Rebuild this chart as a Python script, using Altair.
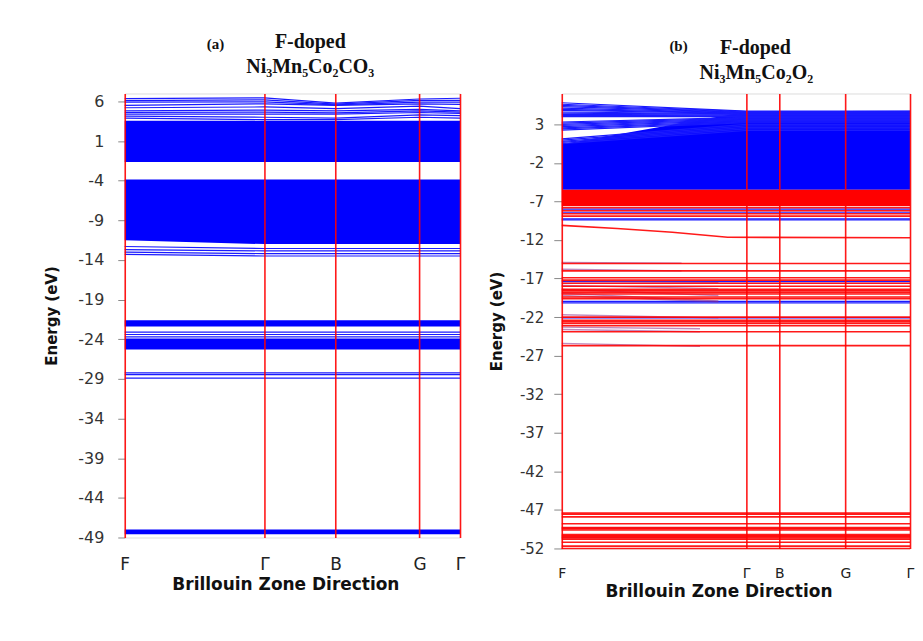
import altair as alt
import pandas as pd

# ---------------- data ----------------
# high-symmetry k positions and names
ka = [0.0, 1.0, 1.51, 2.11, 2.40]
kb = [0.0, 1.0, 1.18, 1.54, 1.89]
k_names = ["F", "Γ", "B", "G", "Γ"]

yticks_a = [6, 1, -4, -9, -14, -19, -24, -29, -34, -39, -44, -49]
yticks_b = [3, -2, -7, -12, -17, -22, -27, -32, -37, -42, -47, -52]

titles_a = ["(a)", "F-doped", "Ni₃Mn₅Co₂CO₃"]
titles_b = ["(b)", "F-doped", "Ni₃Mn₅Co₂O₂"]

# panel (a): dense band manifolds (upper / lower energy at each k point)
blocks_a_upper = [
    [3.55, 3.55, 3.55, 3.55, 3.55],
    [-3.85, -3.85, -3.85, -3.85, -3.85],
    [-21.6, -21.6, -21.6, -21.6, -21.6],
    [-23.9, -23.9, -23.9, -23.9, -23.9],
    [-48.0, -48.0, -48.0, -48.0, -48.0],
]
blocks_a_lower = [
    [-1.65, -1.65, -1.65, -1.65, -1.65],
    [-11.5, -12.0, -12.0, -12.0, -12.0],
    [-22.4, -22.4, -22.4, -22.4, -22.4],
    [-25.3, -25.3, -25.3, -25.3, -25.3],
    [-48.6, -48.6, -48.6, -48.6, -48.6],
]
# panel (a): individual bands
bands_a = [
    [6.34, 6.45, 5.79, 6.30, 6.40],
    [6.10, 6.20, 5.65, 6.13, 6.13],
    [5.90, 5.95, 5.55, 5.90, 5.90],
    [5.50, 5.70, 5.50, 5.70, 5.62],
    [5.20, 5.30, 5.10, 5.40, 5.10],
    [4.80, 4.90, 4.80, 5.00, 4.80],
    [4.60, 4.65, 4.55, 4.80, 4.65],
    [4.40, 4.40, 4.40, 4.60, 4.50],
    [4.15, 4.00, 3.90, 4.30, 4.20],
    [3.90, 3.70, 3.70, 4.00, 3.90],
    [-12.3, -12.55, -12.55, -12.55, -12.55],
    [-12.7, -12.85, -12.85, -12.85, -12.85],
    [-13.0, -13.2, -13.2, -13.2, -13.2],
    [-13.3, -13.5, -13.5, -13.5, -13.5],
    [-23.1, -23.1, -23.1, -23.1, -23.1],
    [-23.4, -23.4, -23.4, -23.4, -23.4],
    [-23.7, -23.7, -23.7, -23.7, -23.7],
    [-28.25, -28.25, -28.25, -28.25, -28.25],
    [-28.45, -28.45, -28.45, -28.45, -28.45],
    [-28.9, -28.9, -28.9, -28.9, -28.9],
]

# panel (b): blue (spin-up) manifold and bands
blocks_b_blue_upper = [[0.4, 4.63, 4.63, 4.63, 4.70]]
blocks_b_blue_lower = [[-5.5, -5.5, -5.5, -5.5, -5.5]]
bands_b_blue = [
    [5.80, 4.70, 4.70, 4.70, 4.72],
    [5.60, 4.66, 4.66, 4.66, 4.68],
    [5.45, 4.60, 4.60, 4.60, 4.62],
    [5.30, 4.55, 4.55, 4.55, 4.55],
    [5.10, 4.50, 4.50, 4.50, 4.50],
    [4.95, 4.45, 4.45, 4.45, 4.45],
    [4.80, 4.40, 4.40, 4.40, 4.40],
    [4.60, 4.35, 4.35, 4.35, 4.35],
    [4.45, 4.30, 4.30, 4.30, 4.30],
    [4.30, 4.20, 4.20, 4.20, 4.20],
    [4.15, 4.10, 4.10, 4.10, 4.10],
    [4.00, 4.00, 4.00, 4.00, 4.00],
    [3.30, 3.90, 3.90, 3.90, 3.90],
    [3.15, 3.80, 3.80, 3.80, 3.80],
    [3.00, 3.70, 3.70, 3.70, 3.70],
    [2.85, 3.60, 3.60, 3.60, 3.60],
    [2.70, 3.50, 3.50, 3.50, 3.50],
    [2.55, 3.40, 3.40, 3.40, 3.40],
    [2.40, 3.30, 3.30, 3.30, 3.30],
    [2.25, 3.20, 3.20, 3.20, 3.20],
    [1.10, 3.00, 3.00, 3.00, 3.00],
    [0.95, 2.80, 2.80, 2.80, 2.80],
    [0.80, 2.60, 2.60, 2.60, 2.60],
    [0.65, 2.40, 2.40, 2.40, 2.40],
    [0.50, 2.20, 2.20, 2.20, 2.20],
    [-8.0, -8.0, -8.0, -8.0, -8.0],
    [-8.4, -8.4, -8.4, -8.4, -8.4],
    [-9.25, -9.25, -9.25, -9.25, -9.25],
    [-9.4, -9.4, -9.4, -9.4, -9.4],
    [-17.4, -17.4, -17.4, -17.4, -17.4],
    [-19.95, -19.95, -19.95, -19.95, -19.95],
    [-20.15, -20.15, -20.15, -20.15, -20.15],
    [-22.1, -22.1, -22.1, -22.1, -22.1],
]
# panel (b): red (spin-down) manifold and flat bands
blocks_b_red_upper = [[-5.5, -5.5, -5.5, -5.5, -5.5]]
blocks_b_red_lower = [[-7.6, -7.6, -7.6, -7.6, -7.6]]
bands_b_red_flat = [-7.8, -8.2, -8.6, -8.9, -15.05, -16.0, -16.9, -17.2, -17.6,
                    -18.0, -18.4, -18.6, -18.8, -19.0, -19.4, -19.6, -22.0,
                    -22.4, -22.6, -22.8, -23.1, -23.9, -25.7, -47.4, -47.55,
                    -47.9, -48.8, -49.3, -49.45, -49.6, -50.2, -50.35, -50.5,
                    -50.65, -50.8, -51.2, -51.7, -52.0]
# the dispersive red band (k, E)
curve_b_k = [0.0, 0.3, 0.6, 0.9, 1.89]
curve_b_E = [-10.1, -10.5, -11.0, -11.65, -11.7]
# fading purple bands on the F side: start energy, end energy, end k
partial_b_E0 = [-14.9, -15.8, -17.3, -17.9, -18.4, -18.9, -19.2, -21.7, -23.3, -23.6, -25.4, -49.3, -50.6]
partial_b_E1 = [-15.0, -16.0, -17.5, -18.3, -19.2, -19.9, -20.0, -22.1, -23.5, -23.9, -25.8, -49.3, -50.6]
partial_b_k1 = [0.65, 0.65, 0.85, 0.85, 0.85, 0.85, 0.85, 0.85, 0.75, 0.75, 0.75, 1.0, 1.0]

# ---------------- build tables ----------------
def band_table(bands, ks):
    rows = []
    for i, b in enumerate(bands):
        for k, e in zip(ks, b):
            rows.append({"band": i, "k": k, "E": e})
    return pd.DataFrame(rows)

def block_table(uppers, lowers, ks):
    rows = []
    for i, (u, l) in enumerate(zip(uppers, lowers)):
        for k, eu, el in zip(ks, u, l):
            rows.append({"block": i, "k": k, "Eu": eu, "El": el})
    return pd.DataFrame(rows)

BLUE = "#0000ff"
LBLUE = "#1a1aff"
RED = "#ff0000"
FONT = "DejaVu Sans"
SERIF = "Liberation Serif"

def label_expr(ks, names):
    parts = []
    for k, n in zip(ks, names):
        parts.append(f"abs(datum.value - {k}) < 0.001 ? '{n}' : ")
    return "".join(parts) + "''"

def x_enc(ks, label_pad, title_pad, title_x, label_size):
    return alt.X(
        "k:Q",
        scale=alt.Scale(domain=[ks[0], ks[-1]], nice=False, zero=False),
        axis=alt.Axis(
            values=ks, labelExpr=label_expr(ks, k_names), title="Brillouin Zone Direction",
            grid=True, gridColor=RED, gridWidth=1.6, gridOpacity=0.9,
            domain=False, ticks=False, labelFlush=False, labelOverlap=False,
            labelFont=FONT, labelFontSize=label_size, labelColor="#222", labelPadding=label_pad,
            titleFont=FONT, titleFontSize=17, titleFontWeight="bold", titleColor="#111",
            titlePadding=title_pad, titleX=title_x, titleAlign="center", zindex=1,
        ),
    )

def y_enc(field, domain, ticks, title_x, label_size, tick_size, label_pad):
    return alt.Y(
        field,
        scale=alt.Scale(domain=domain, nice=False, zero=False),
        axis=alt.Axis(
            values=ticks, labelExpr="toString(datum.value)", title="Energy (eV)",
            grid=False, domain=False,
            tickColor="#888", tickSize=tick_size, labelFont=FONT, labelFontSize=label_size,
            labelColor="#333", labelPadding=label_pad,
            titleFont=FONT, titleFontSize=15, titleFontWeight="bold", titleColor="#111",
            titleX=title_x,
        ),
    )

def titles_layer(texts, pos):
    layers = []
    for t, (x, y, size) in zip(texts, pos):
        layers.append(
            alt.Chart(pd.DataFrame({"t": [t]})).mark_text(
                font=SERIF, fontWeight="bold", fontSize=size, color="#111",
                align="center", baseline="middle",
            ).encode(x=alt.value(x), y=alt.value(y), text="t:N")
        )
    return layers

# ---------------- panel (a) ----------------
dom_a = [-49, 7]
xa = x_enc(ka, 19, 4, 161, 17)
ya_area = y_enc("Eu:Q", dom_a, yticks_a, -65, 16, 7, 14)
ya_line = y_enc("E:Q", dom_a, yticks_a, -65, 16, 7, 14)

area_a = alt.Chart(block_table(blocks_a_upper, blocks_a_lower, ka)).mark_area(
    color=BLUE, opacity=1, line=False
).encode(x=xa, y=ya_area, y2="El:Q", detail="block:N")

lines_a = alt.Chart(band_table(bands_a, ka)).mark_line(
    color=LBLUE, strokeWidth=1.2
).encode(x=xa, y=ya_line, detail="band:N", order="k:Q")

panel_a = alt.layer(
    area_a, lines_a,
    *titles_layer(titles_a, [(91, -50, 15), (186, -52, 20), (186, -27, 20)]),
).properties(width=336, height=445)

# ---------------- panel (b) ----------------
dom_b = [-52, 7]
xb = x_enc(kb, 18, 3, 157, 14)
yb_area = y_enc("Eu:Q", dom_b, yticks_b, -57, 15, 8, 10)
yb_line = y_enc("E:Q", dom_b, yticks_b, -57, 15, 8, 10)

area_b_blue = alt.Chart(block_table(blocks_b_blue_upper, blocks_b_blue_lower, kb)).mark_area(
    color=BLUE, opacity=1
).encode(x=xb, y=yb_area, y2="El:Q", detail="block:N")

lines_b_blue = alt.Chart(band_table(bands_b_blue, kb)).mark_line(
    color=LBLUE, strokeWidth=1.2
).encode(x=xb, y=yb_line, detail="band:N", order="k:Q")

area_b_red = alt.Chart(block_table(blocks_b_red_upper, blocks_b_red_lower, kb)).mark_area(
    color=RED, opacity=1
).encode(x=xb, y=yb_area, y2="El:Q", detail="block:N")

red_flat = band_table([[e] * len(kb) for e in bands_b_red_flat], kb)
lines_b_red = alt.Chart(red_flat).mark_line(
    color=RED, strokeWidth=1.6, opacity=0.9
).encode(x=xb, y=yb_line, detail="band:N", order="k:Q")

curve_df = pd.DataFrame({"band": 0, "k": curve_b_k, "E": curve_b_E})
curve_b = alt.Chart(curve_df).mark_line(color=RED, strokeWidth=1.6, opacity=0.9).encode(
    x=xb, y=yb_line, order="k:Q"
)

prow = []
for i, (e0, e1, k1) in enumerate(zip(partial_b_E0, partial_b_E1, partial_b_k1)):
    prow.append({"band": i, "k": 0.0, "E": e0})
    prow.append({"band": i, "k": k1, "E": e1})
partial_b = alt.Chart(pd.DataFrame(prow)).mark_line(
    color="#8a2b8a", strokeWidth=1.4, opacity=0.55
).encode(x=xb, y=yb_line, detail="band:N", order="k:Q")

panel_b = alt.layer(
    area_b_blue, lines_b_blue, area_b_red, partial_b, lines_b_red, curve_b,
    *titles_layer(titles_b, [(117, -48, 15), (194, -46, 20), (195, -21, 20)]),
).properties(width=349, height=456)

chart = alt.hconcat(panel_a, panel_b, spacing=102, bounds="flush").properties(
    padding={"left": 36, "top": 22, "right": 0, "bottom": 5}
).configure_view(stroke=None).configure(background="white")

chart.save("out.html", embed_options={"renderer": "svg", "actions": False})
